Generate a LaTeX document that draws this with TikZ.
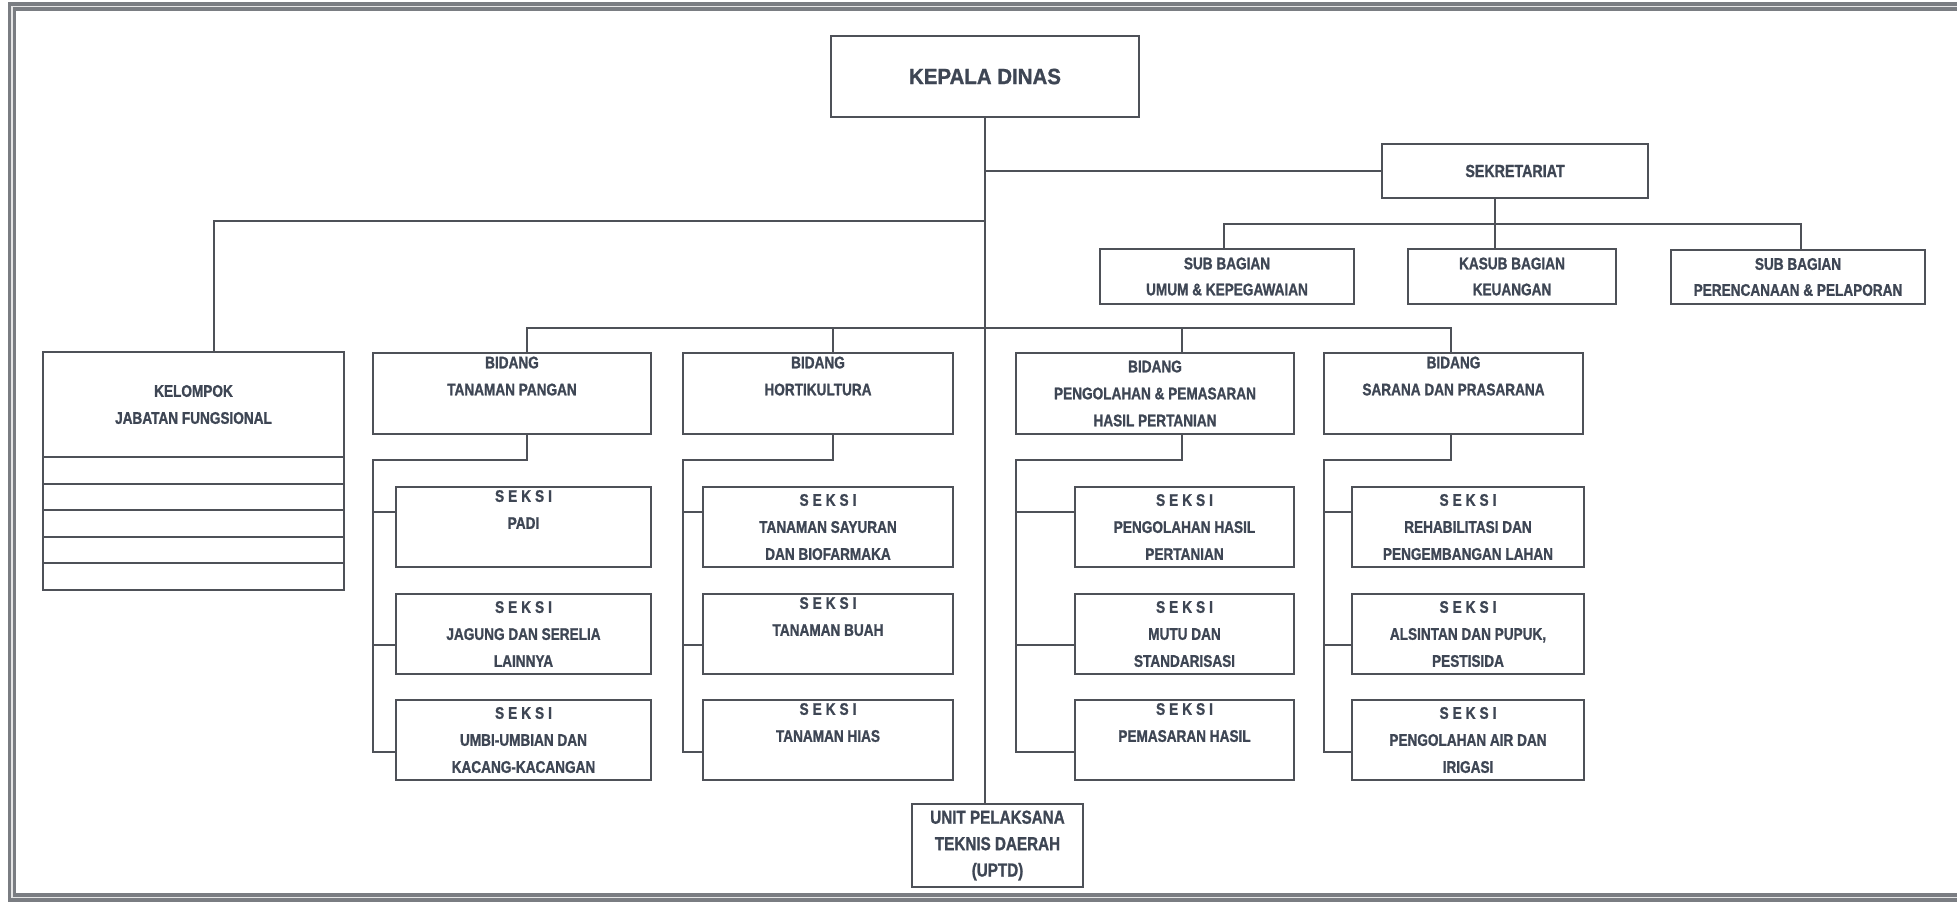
\documentclass[tikz,border=0pt]{standalone}
\usepackage{fontspec}
\setmainfont{Liberation Sans}[FakeStretch=0.81,BoldFont={Liberation Sans Bold},BoldFeatures={FakeBold=1.2}]
\newfontfamily\kdfont{Liberation Sans}[FakeStretch=0.93,BoldFont={Liberation Sans Bold},BoldFeatures={FakeBold=1.2}]
\definecolor{ln}{HTML}{4E5158}
\definecolor{tx}{HTML}{3E4654}
\newcommand\seksi{S\kern2pt E\kern2pt K\kern2pt S\kern2pt I}
\newcommand\bx[7][]{\node[box,#1,minimum width={(#5-#3)*0.5pt},minimum height={(#6-#4)*0.5pt}] (#2) at ({(#3+#5)/2},{(#4+#6)/2}) {#7};}
\tikzset{
  box/.style={draw=ln,line width=1pt,rectangle,inner sep=0pt,align=center,text=tx,
    font=\bfseries\fontsize{8.4}{13.5}\selectfont},
  conn/.style={draw=ln,line width=1pt},
  frame/.style={draw=ln!75,line width=1.8pt,double=gray!20,double distance=0.8pt},
}
\begin{document}
\begin{tikzpicture}[x=0.5pt,y=-0.5pt]
\useasboundingbox (0,0) rectangle (1957,902);
% frame (right side cut off)
\draw[frame] (1960,6.5) -- (12,6.5) -- (12,897.5) -- (1960,897.5);

% top level
\bx[font=\kdfont\bfseries\fontsize{11}{13}\selectfont]{kd}{831}{36}{1139}{117}{KEPALA DINAS}
\bx[font=\bfseries\fontsize{8.8}{13}\selectfont]{sek}{1382}{144}{1648}{198}{SEKRETARIAT}
\bx[font=\bfseries\fontsize{8.4}{13}\selectfont]{sb1}{1100}{249}{1354}{304}{SUB BAGIAN\\UMUM \& KEPEGAWAIAN}
\bx[font=\bfseries\fontsize{8.4}{13}\selectfont]{sb2}{1408}{249}{1616}{304}{KASUB BAGIAN\\KEUANGAN}
\bx[font=\bfseries\fontsize{8.4}{13}\selectfont]{sb3}{1671}{250}{1925}{304}{SUB BAGIAN\\PERENCANAAN \& PELAPORAN}

% kelompok jabatan fungsional
\bx{kel}{43}{352}{344}{457}{KELOMPOK\\JABATAN FUNGSIONAL}
\bx{kr1}{43}{457}{344}{484}{}
\bx{kr2}{43}{484}{344}{510}{}
\bx{kr3}{43}{510}{344}{537}{}
\bx{kr4}{43}{537}{344}{563}{}
\bx{kr5}{43}{563}{344}{590}{}

% bidang
\bx{b1}{373}{353}{651}{434}{BIDANG\\TANAMAN PANGAN\\\strut}
\bx{b2}{683}{353}{953}{434}{BIDANG\\HORTIKULTURA\\\strut}
\bx{b3}{1016}{353}{1294}{434}{BIDANG\\PENGOLAHAN \& PEMASARAN\\HASIL PERTANIAN}
\bx{b4}{1324}{353}{1583}{434}{BIDANG\\SARANA DAN PRASARANA\\\strut}

% seksi tanaman pangan
\bx{s11}{396}{487}{651}{567}{\seksi\\PADI\\\strut}
\bx{s12}{396}{594}{651}{674}{\seksi\\JAGUNG DAN SERELIA\\LAINNYA}
\bx{s13}{396}{700}{651}{780}{\seksi\\UMBI-UMBIAN DAN\\KACANG-KACANGAN}
% seksi hortikultura
\bx{s21}{703}{487}{953}{567}{\seksi\\TANAMAN SAYURAN\\DAN BIOFARMAKA}
\bx{s22}{703}{594}{953}{674}{\seksi\\TANAMAN BUAH\\\strut}
\bx{s23}{703}{700}{953}{780}{\seksi\\TANAMAN HIAS\\\strut}
% seksi pengolahan & pemasaran
\bx{s31}{1075}{487}{1294}{567}{\seksi\\PENGOLAHAN HASIL\\PERTANIAN}
\bx{s32}{1075}{594}{1294}{674}{\seksi\\MUTU DAN\\STANDARISASI}
\bx{s33}{1075}{700}{1294}{780}{\seksi\\PEMASARAN HASIL\\\strut}
% seksi sarana prasarana
\bx{s41}{1352}{487}{1584}{567}{\seksi\\REHABILITASI DAN\\PENGEMBANGAN LAHAN}
\bx{s42}{1352}{594}{1584}{674}{\seksi\\ALSINTAN DAN PUPUK,\\PESTISIDA}
\bx{s43}{1352}{700}{1584}{780}{\seksi\\PENGOLAHAN AIR DAN\\IRIGASI}

% UPTD
\bx[font=\bfseries\fontsize{9.4}{13.2}\selectfont]{uptd}{912}{804}{1083}{887}{UNIT PELAKSANA\\TEKNIS DAERAH\\(UPTD)}

% ---- connectors ----
\coordinate (kj) at (214,221);
\coordinate (sj) at (1495,224);
\coordinate (bl) at (527,328);
\coordinate (br) at (1451,328);
% main spine
\draw[conn] (kd.south) -- (kd.south |- uptd.north);
% sekretariat
\draw[conn] (kd.south |- sek.west) -- (sek.west);
\draw[conn] (sek.south -| sj) -- (sb2.north -| sj);
\draw[conn] (sb1.north -| 1224,0) |- (sj) -| (sb3.north -| 1801,0);
% kelompok
\draw[conn] (kd.south |- kj) -- (kj) -- (kj |- kel.north);
% bidang bus
\draw[conn] (b1.north -| bl) -- (bl) -- (br) -- (b4.north -| br);
\draw[conn] (b2.north -| 833,0) -- (833,328);
\draw[conn] (b3.north -| 1182,0) -- (1182,328);

% seksi connectors: tanaman pangan
\coordinate (d1) at (527,460);
\draw[conn] (b1.south -| d1) -- (d1) -| (373,752) -- (s13.west |- 0,752);
\draw[conn] (373,512) -- (s11.west |- 0,512);
\draw[conn] (373,645) -- (s12.west |- 0,645);
% hortikultura
\coordinate (d2) at (833,460);
\draw[conn] (b2.south -| d2) -- (d2) -| (683,752) -- (s23.west |- 0,752);
\draw[conn] (683,512) -- (s21.west |- 0,512);
\draw[conn] (683,645) -- (s22.west |- 0,645);
% pengolahan pemasaran
\coordinate (d3) at (1182,460);
\draw[conn] (b3.south -| d3) -- (d3) -| (1016,752) -- (s33.west |- 0,752);
\draw[conn] (1016,512) -- (s31.west |- 0,512);
\draw[conn] (1016,645) -- (s32.west |- 0,645);
% sarana prasarana
\coordinate (d4) at (1451,460);
\draw[conn] (b4.south -| d4) -- (d4) -| (1324,752) -- (s43.west |- 0,752);
\draw[conn] (1324,512) -- (s41.west |- 0,512);
\draw[conn] (1324,645) -- (s42.west |- 0,645);
\end{tikzpicture}
\end{document}
